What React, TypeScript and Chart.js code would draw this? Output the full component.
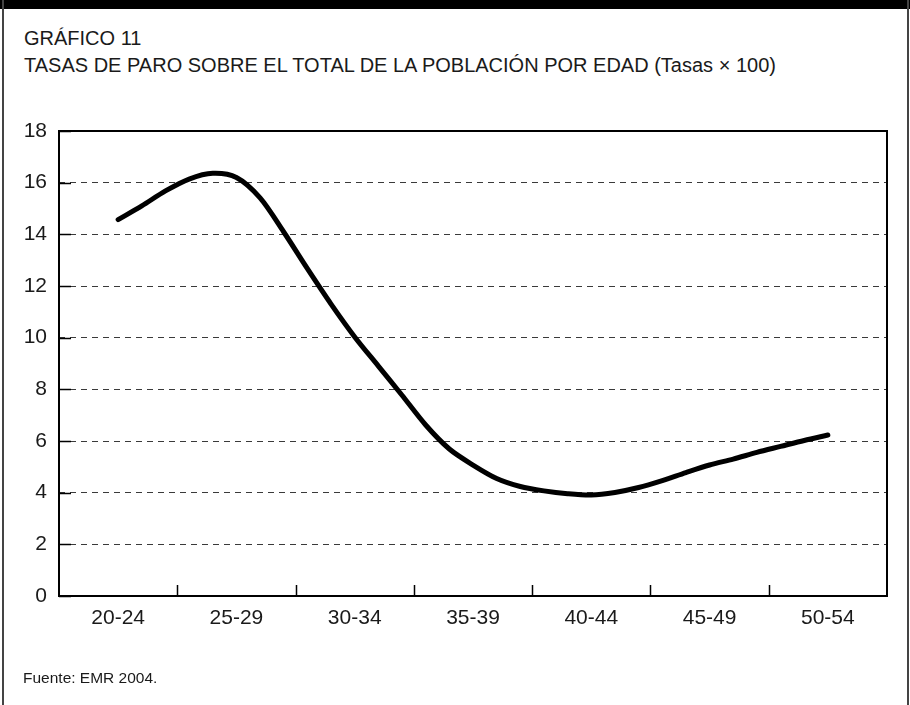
import React, { useEffect, useRef } from "react";
import { Chart, registerables } from "chart.js";

Chart.register(...registerables);

// ---- Data ----
const AGE_GROUPS = ["20-24", "25-29", "30-34", "35-39", "40-44", "45-49", "50-54"];
const GROUP_START_AGES = [20, 25, 30, 35, 40, 45, 50];
const AGES = [22, 23, 24, 25, 26, 27, 28, 29, 30, 31, 32, 33, 34, 35, 36, 37, 38, 39, 40, 41, 42, 43, 44, 45, 46, 47, 48, 49, 50, 51, 52];
const TASAS = [14.57, 15.1, 15.68, 16.14, 16.36, 16.2, 15.41, 14.09, 12.67, 11.3, 10.03, 8.9, 7.77, 6.62, 5.69, 5.07, 4.55, 4.24, 4.07, 3.96, 3.91, 4.01, 4.2, 4.47, 4.78, 5.07, 5.3, 5.56, 5.79, 6.02, 6.23];
const Y_TICKS = [0, 2, 4, 6, 8, 10, 12, 14, 16, 18];

const TITLE_1 = "GRÁFICO 11";
const TITLE_2 = "TASAS DE PARO SOBRE EL TOTAL DE LA POBLACIÓN POR EDAD (Tasas × 100)";
const SOURCE = "Fuente: EMR 2004.";

const FONT = "'Liberation Sans', Arial, Helvetica, sans-serif";

const groupCenters = GROUP_START_AGES.map((a) => a + 2);
const groupBoundaries = GROUP_START_AGES.slice(1).map((a) => a - 0.5);

const framePlugin = {
  id: "framePlugin",
  afterDatasetsDraw(chart: any) {
    const { ctx, chartArea: a, scales } = chart;
    ctx.save();
    ctx.strokeStyle = "#000";
    ctx.lineWidth = 1.5;
    ctx.beginPath();
    for (const v of Y_TICKS) {
      const y = Math.round(scales.y.getPixelForValue(v)) + 0.5;
      ctx.moveTo(a.left, y);
      ctx.lineTo(a.left + 12, y);
    }
    for (const b of groupBoundaries) {
      const x = Math.round(scales.x.getPixelForValue(b)) + 0.5;
      ctx.moveTo(x, a.bottom);
      ctx.lineTo(x, a.bottom - 11);
    }
    ctx.stroke();
    ctx.lineWidth = 2;
    ctx.strokeRect(a.left, a.top, a.right - a.left, a.bottom - a.top);
    ctx.restore();
  },
};

export default function App() {
  const canvasRef = useRef<HTMLCanvasElement | null>(null);

  useEffect(() => {
    if (!canvasRef.current) return;
    const chart = new Chart(canvasRef.current, {
      type: "line",
      data: {
        datasets: [
          {
            label: "Tasa de paro",
            data: AGES.map((age, i) => ({ x: age, y: TASAS[i] })),
            borderColor: "#000",
            borderWidth: 5,
            pointRadius: 0,
            tension: 0.3,
            borderCapStyle: "round",
            borderJoinStyle: "round",
            fill: false,
          },
        ],
      },
      options: {
        animation: false,
        responsive: false,
        maintainAspectRatio: false,
        layout: { padding: { top: 131, right: 23, left: 0, bottom: 0 } },
        plugins: {
          legend: { display: false },
          title: { display: false },
          tooltip: { enabled: false },
        },
        scales: {
          x: {
            type: "linear",
            min: 19.5,
            max: 54.5,
            afterBuildTicks: (scale: any) => {
              scale.ticks = groupCenters.map((v) => ({ value: v }));
            },
            afterFit: (scale: any) => {
              scale.height = 109;
            },
            ticks: {
              autoSkip: false,
              maxRotation: 0,
              padding: 10,
              color: "#1a1a1a",
              font: { family: FONT, size: 21 },
              callback: (value: any) => {
                const idx = groupCenters.indexOf(Number(value));
                return idx >= 0 ? AGE_GROUPS[idx] : "";
              },
            },
            grid: { display: false, drawTicks: false },
            border: { display: false },
          },
          y: {
            min: 0,
            max: 18,
            afterBuildTicks: (scale: any) => {
              scale.ticks = Y_TICKS.map((v) => ({ value: v }));
            },
            afterFit: (scale: any) => {
              scale.width = 59;
            },
            ticks: {
              padding: 12,
              color: "#1a1a1a",
              font: { family: FONT, size: 21 },
            },
            grid: {
              color: "#3a3a3a",
              lineWidth: 1,
              drawTicks: false,
            },
            border: { display: false, dash: [6, 5] },
          },
        },
      },
      plugins: [framePlugin],
    });
    return () => chart.destroy();
  }, []);

  return (
    <div style={{ position: "absolute", left: 0, top: 0, width: 910, height: 705, background: "#fff", overflow: "hidden" }}>
      <div style={{ position: "absolute", left: 0, top: 0, width: 910, height: 9, background: "#000" }} />
      <div style={{ position: "absolute", left: 2, top: 0, width: 2, height: 705, background: "#444" }} />
      <div style={{ position: "absolute", left: 907, top: 0, width: 2, height: 705, background: "#444" }} />
      <div
        style={{
          position: "absolute",
          left: 24,
          top: 25,
          fontFamily: FONT,
          fontSize: 20,
          lineHeight: "26.5px",
          color: "#1a1a1a",
          whiteSpace: "nowrap",
        }}
      >
        <div>{TITLE_1}</div>
        <div>{TITLE_2}</div>
      </div>
      <canvas ref={canvasRef} width={910} height={705} style={{ position: "absolute", left: 0, top: 0, width: 910, height: 705 }} />
      <div
        style={{
          position: "absolute",
          left: 23,
          top: 669,
          fontFamily: FONT,
          fontSize: 15.5,
          lineHeight: "17px",
          color: "#1a1a1a",
          whiteSpace: "nowrap",
        }}
      >
        {SOURCE}
      </div>
    </div>
  );
}
